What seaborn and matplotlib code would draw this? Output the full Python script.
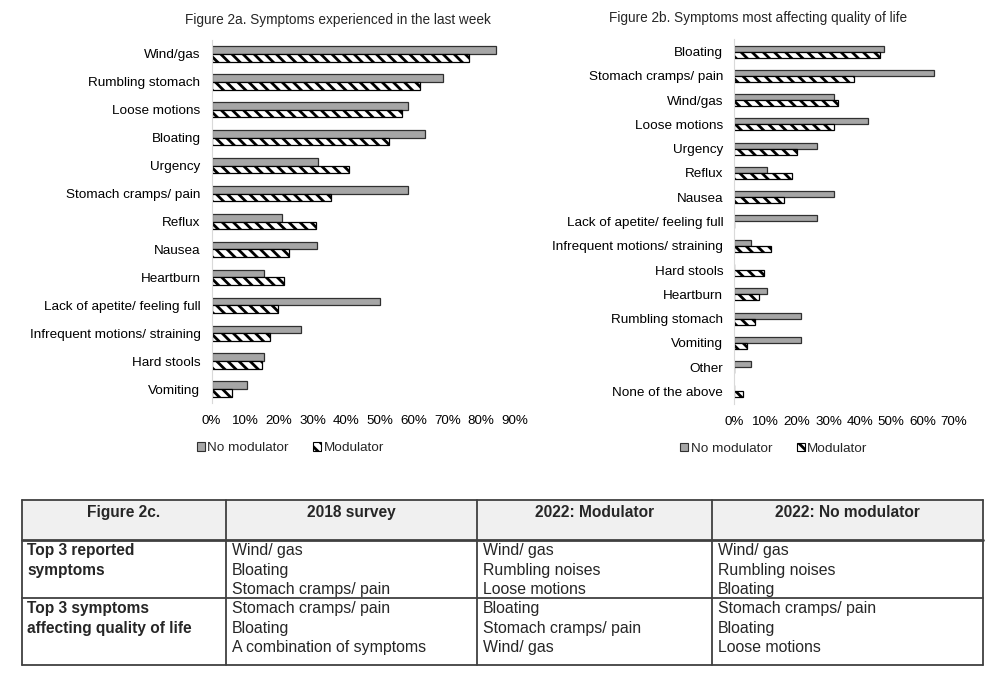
import numpy as np
import pandas as pd
import matplotlib
matplotlib.use("Agg")
import matplotlib.pyplot as plt
import seaborn as sns
from matplotlib.patches import Patch, Rectangle
from matplotlib.ticker import PercentFormatter

# data - figure 2a (symptoms in last week, %)
symptoms_a = ["Wind/gas", "Rumbling stomach", "Loose motions", "Bloating", "Urgency",
              "Stomach cramps/ pain", "Reflux", "Nausea", "Heartburn",
              "Lack of apetite/ feeling full", "Infrequent motions/ straining",
              "Hard stools", "Vomiting"]
no_mod_a = [84.5, 68.6, 58.3, 63.3, 31.5, 58.3, 21.0, 31.4, 15.7, 50.1, 26.4, 15.7, 10.6]
mod_a = [76.4, 61.9, 56.5, 52.5, 40.9, 35.5, 31.0, 23.1, 21.4, 19.7, 17.4, 15.1, 6.0]

# data - figure 2b (symptoms most affecting quality of life, %)
symptoms_b = ["Bloating", "Stomach cramps/ pain", "Wind/gas", "Loose motions", "Urgency",
              "Reflux", "Nausea", "Lack of apetite/ feeling full",
              "Infrequent motions/ straining", "Hard stools", "Heartburn",
              "Rumbling stomach", "Vomiting", "Other", "None of the above"]
no_mod_b = [47.7, 63.5, 31.8, 42.5, 26.2, 10.5, 31.8, 26.2, 5.4, 0.0, 10.5, 21.1, 21.1, 5.4, 0.0]
mod_b = [46.4, 38.2, 33.0, 31.8, 20.0, 18.5, 15.7, 0.0, 11.8, 9.5, 8.0, 6.7, 3.9, 0.0, 2.7]

# data - figure 2c table
table_header = ["Figure 2c.", "2018 survey", "2022: Modulator", "2022: No modulator"]
row_labels = ["Top 3 reported\nsymptoms", "Top 3 symptoms\naffecting quality of life"]
survey_2018 = [["Wind/ gas", "Bloating", "Stomach cramps/ pain"],
               ["Stomach cramps/ pain", "Bloating", "A combination of symptoms"]]
modulator_2022 = [["Wind/ gas", "Rumbling noises", "Loose motions"],
                  ["Bloating", "Stomach cramps/ pain", "Wind/ gas"]]
no_modulator_2022 = [["Wind/ gas", "Rumbling noises", "Bloating"],
                     ["Stomach cramps/ pain", "Bloating", "Loose motions"]]

series = ["No modulator", "Modulator"]
gray = "#a6a6a6"

sns.set_style("white")
plt.rcParams["font.family"] = ["Liberation Sans", "DejaVu Sans"]
plt.rcParams["hatch.linewidth"] = 2.0


def long_df(cats, a, b):
    return pd.DataFrame({
        "symptom": cats * 2,
        "value": a + b,
        "group": [series[0]] * len(cats) + [series[1]] * len(cats),
    })


def draw_bars(ax, df, width, xmax, legend_x):
    sns.barplot(data=df, y="symptom", x="value", hue="group", hue_order=series,
                palette=[gray, "white"], orient="h", width=width, ax=ax,
                edgecolor="#303030", linewidth=0.9, legend=False)
    for bar in ax.containers[1]:
        bar.set_hatch("\\\\\\")
        bar.set_edgecolor("black")
    ax.set_xlim(0, xmax)
    ax.xaxis.set_major_formatter(PercentFormatter(decimals=0))
    ax.set_xticks(np.arange(0, xmax + 1, 10))
    ax.set_xlabel("")
    ax.set_ylabel("")
    for s in ["top", "right", "bottom"]:
        ax.spines[s].set_visible(False)
    ax.spines["left"].set_color("#d9d9d9")
    ax.tick_params(axis="both", length=0, colors="black")
    ax.tick_params(axis="x", pad=9, labelsize=9.6)
    ax.tick_params(axis="y", pad=8, labelsize=9.7)
    handles = [Patch(facecolor=gray, edgecolor="#303030", linewidth=0.8),
               Patch(facecolor="white", edgecolor="black", hatch="\\\\\\", linewidth=0.8)]
    ax.legend(handles, series, loc="upper center", bbox_to_anchor=(legend_x, -0.075),
              ncol=2, frameon=False, fontsize=9.7, handlelength=0.6, handleheight=0.6,
              handletextpad=0.2, columnspacing=1.8)


fig = plt.figure(figsize=(10, 6.87), dpi=100)

ax1 = fig.add_axes([0.2115, 1 - 403 / 687, 0.3035, 363 / 687])
draw_bars(ax1, long_df(symptoms_a, no_mod_a, mod_a), 0.55, 90, 0.26)
fig.text(0.3375, 1 - 20 / 687, "Figure 2a. Symptoms experienced in the last week",
         ha="center", va="center", fontsize=9.8)

ax2 = fig.add_axes([0.7343, 1 - 403.5 / 687, 0.2197, 364 / 687])
draw_bars(ax2, long_df(symptoms_b, no_mod_b, mod_b), 0.5, 70, 0.18)
fig.text(0.907, 1 - 18 / 687, "Figure 2b. Symptoms most affecting quality of life",
         ha="right", va="center", fontsize=9.8)

# table
col_edges = [22, 226, 477, 712, 983]
row_edges = [500, 540, 598, 665]
ax3 = fig.add_axes([0.022, 1 - 665 / 687, 0.961, 165 / 687])
ax3.set_xlim(col_edges[0], col_edges[-1])
ax3.set_ylim(row_edges[-1], row_edges[0])
ax3.axis("off")

ax3.add_patch(Rectangle((col_edges[0], row_edges[0]), col_edges[-1] - col_edges[0],
                        row_edges[1] - row_edges[0], facecolor="#f0f0f0", edgecolor="none"))
for x in col_edges:
    ax3.plot([x, x], [row_edges[0], row_edges[-1]], color="#404040", lw=1.3, clip_on=False)
for y in row_edges:
    ax3.plot([col_edges[0], col_edges[-1]], [y, y], color="#404040",
             lw=2.0 if y == row_edges[1] else 1.3, clip_on=False)

for i, h in enumerate(table_header):
    ax3.text((col_edges[i] + col_edges[i + 1]) / 2, row_edges[0] + 5, h, ha="center",
             va="top", fontsize=11.2, fontweight="bold")

columns = [survey_2018, modulator_2022, no_modulator_2022]
for r in range(2):
    y0 = row_edges[r + 1] + 3
    ax3.text(col_edges[0] + 5, y0, row_labels[r], ha="left", va="top", fontsize=11.2,
             fontweight="bold", linespacing=1.38)
    for c, col in enumerate(columns):
        ax3.text(col_edges[c + 1] + 6, y0, "\n".join(col[r]), ha="left", va="top",
                 fontsize=11.4, linespacing=1.38)

fig.savefig("out.png", dpi=100)
